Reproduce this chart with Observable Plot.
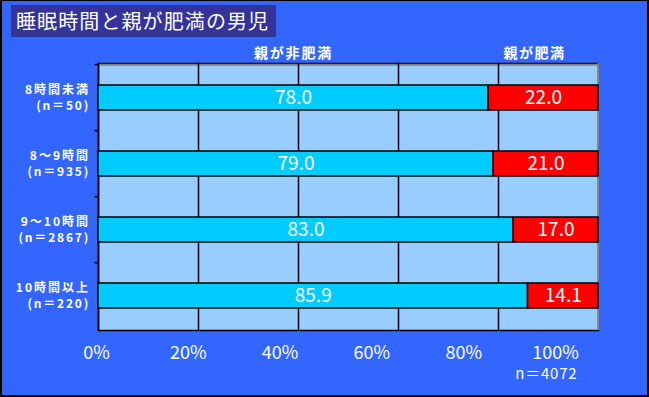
<!DOCTYPE html>
<html><head><meta charset="utf-8">
<script src="https://cdn.jsdelivr.net/npm/d3@7"></script>
<script src="https://cdn.jsdelivr.net/npm/@observablehq/plot@0.6"></script>
<style>
html,body{margin:0;padding:0;background:#3366FF;}
#wrap{position:relative;width:649px;height:397px;background:#3366FF;overflow:hidden;font-family:"Noto Sans CJK JP","Noto Sans",sans-serif;}
#title{position:absolute;left:11px;top:5px;width:265px;height:32px;background:#333399;color:#fff;font-size:20px;line-height:32px;letter-spacing:1.1px;padding-left:5px;box-sizing:border-box;white-space:nowrap;}
#border{position:absolute;left:0;top:0;width:649px;height:397px;box-sizing:border-box;border:2px solid #000;border-top-width:1px;pointer-events:none;}
#chart{position:absolute;left:0;top:0;}
</style></head>
<body>
<div id="wrap"><div id="chart"></div><div id="title">睡眠時間と親が肥満の男児</div><div id="border"></div></div>
<script>
const titleText = "睡眠時間と親が肥満の男児";
const categories = ["8時間未満", "8～9時間", "9～10時間", "10時間以上"];
const counts = [50, 935, 2867, 220];
const nonObese = [78.0, 79.0, 83.0, 85.9];
const obese = [22.0, 21.0, 17.0, 14.1];
const seriesNames = ["親が非肥満", "親が肥満"];
const xTicks = [0, 20, 40, 60, 80, 100];
const totalN = 4072;

const rows = [];
categories.forEach((c, i) => {
  rows.push({cat: c, type: seriesNames[0], x1: 0, x2: nonObese[i], value: nonObese[i]});
  rows.push({cat: c, type: seriesNames[1], x1: nonObese[i], x2: nonObese[i] + obese[i], value: obese[i]});
});
const catInfo = categories.map((c, i) => ({cat: c, n: counts[i]}));
const nLabel = n => `(n＝${n})`;
const font = "Noto Sans CJK JP";

const step = 267 / 4;
const plot = Plot.plot({
  width: 649, height: 397,
  marginLeft: 98, marginRight: 51, marginTop: 63, marginBottom: 67,
  style: {background: "transparent", fontFamily: font, overflow: "visible"},
  x: {domain: [0, 100], axis: null},
  y: {domain: categories, paddingInner: 0.625, paddingOuter: 0.3125, axis: null},
  color: {domain: seriesNames, range: ["#00CCFF", "#FF0000"]},
  marks: [
    Plot.frame({fill: "#99CCFF", stroke: "#000", strokeWidth: 1.5}),
    Plot.ruleX([100], {stroke: "#808080", strokeWidth: 2}),
    Plot.ruleY([categories[0]], {dy: -step / 2, stroke: "#808080", strokeWidth: 2}),
    Plot.ruleX([20, 40, 60, 80], {stroke: "#000", strokeWidth: 1.5}),
    Plot.ruleX([0], {stroke: "#000", strokeWidth: 1.5}),
    Plot.ruleY(categories, {x1: -0.7, x2: 0, dy: -step / 2, stroke: "#000", strokeWidth: 1.5}),
    Plot.barX(rows, {x1: "x1", x2: "x2", y: "cat", fill: "type", stroke: "#000", strokeWidth: 1.5}),
    Plot.text(rows, {x: d => (d.x1 + d.x2) / 2, y: "cat", text: d => d.value.toFixed(1), fill: "#fff", fontSize: 19, fontFamily: font}),
    Plot.text(catInfo, {x: 0, y: "cat", text: d => d.cat, dx: -8.5, dy: -7.5, textAnchor: "end", fill: "#fff", fontSize: 12, fontWeight: "bold", fontFamily: font}),
    Plot.text(catInfo, {x: 0, y: "cat", text: d => nLabel(d.n), dx: -8.5, dy: 8, textAnchor: "end", fill: "#fff", fontSize: 12, fontWeight: "bold", fontFamily: font}),
    Plot.text([seriesNames[0]], {x: nonObese[0] / 2, frameAnchor: "top", dy: -15, text: d => d, fill: "#fff", fontSize: 14, fontWeight: "bold", fontFamily: font}),
    Plot.text([seriesNames[1]], {x: nonObese[0] + obese[0] / 2, frameAnchor: "top", dx: -9, dy: -15, text: d => d, fill: "#fff", fontSize: 14, fontWeight: "bold", fontFamily: font}),
    Plot.text(xTicks, {x: d => d * 0.918 - 0.4, frameAnchor: "bottom", dy: 28, text: d => d + "%", fill: "#fff", fontSize: 18, fontFamily: font}),
    Plot.text([totalN], {x: 100, frameAnchor: "bottom", dx: -21, dy: 48, textAnchor: "end", text: d => `n＝${d}`, fill: "#fff", fontSize: 15, fontFamily: font})
  ]
});
// letter spacing to mimic the reference's wider bitmap font
const spacing = new Map();
categories.forEach(c => spacing.set(c, "2px"));
counts.forEach(n => spacing.set(nLabel(n), "1.8px"));
spacing.set(seriesNames[0], "1.8px");
spacing.set(seriesNames[1], "1.5px");
spacing.set(`n＝${totalN}`, "0.8px");
d3.select(plot).selectAll("text").each(function () {
  const s = spacing.get(this.textContent);
  if (s) this.style.letterSpacing = s;
});
document.getElementById("chart").appendChild(plot);
</script>
</body></html>
